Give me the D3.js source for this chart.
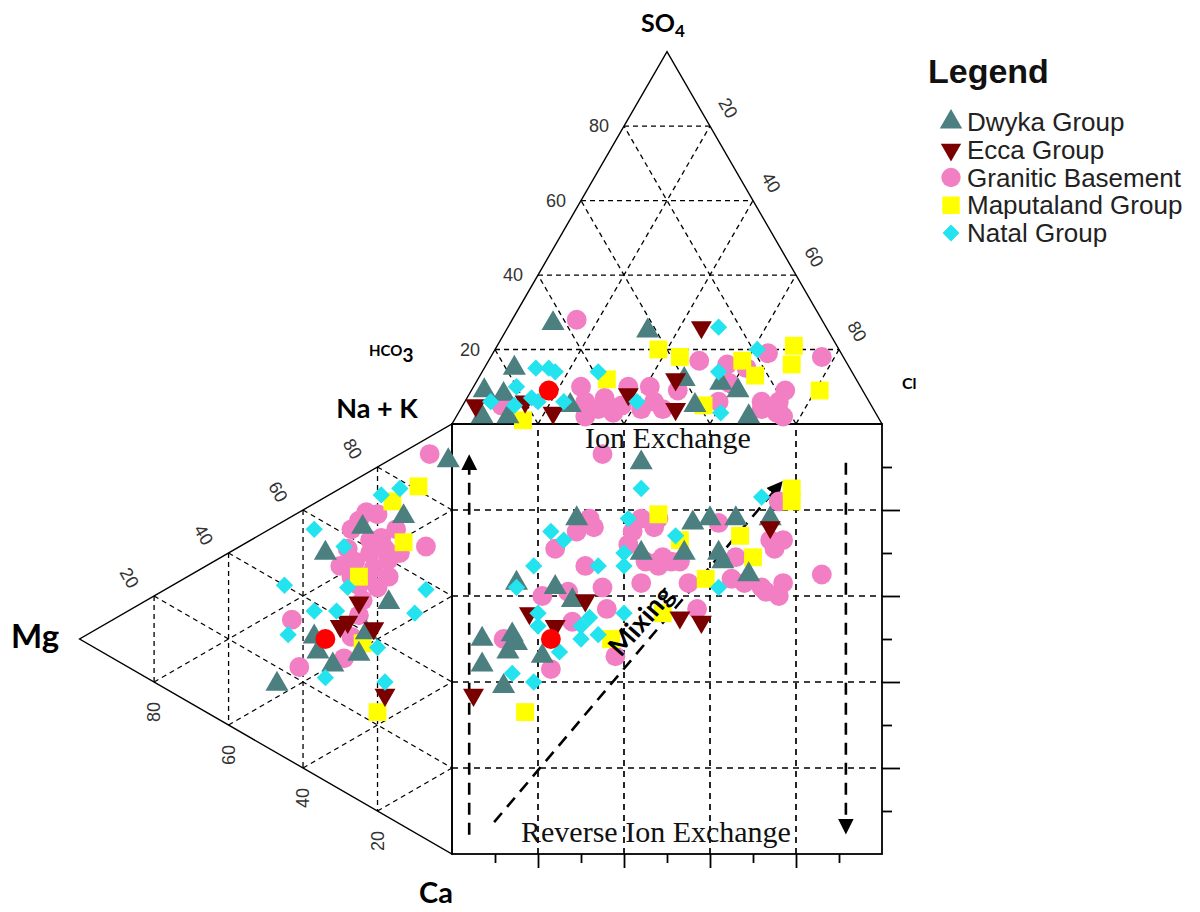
<!DOCTYPE html>
<html>
<head>
<meta charset="utf-8">
<script src="https://cdn.jsdelivr.net/npm/d3@7"></script>
<style>
  body { margin: 0; background: #fff; }
  svg { display: block; }
</style>
</head>
<body>
<svg id="chart" width="1200" height="912"></svg>
<script>
// ---- Sample groups -------------------------------------------------------
const seriesNames = ["Dwyka Group", "Ecca Group", "Granitic Basement", "Maputaland Group", "Natal Group"];
const seriesColors = ["#4b7f80", "#7a0000", "#f27fc3", "#ffff00", "#22e3ee"];

// Anion triangle: [Cl %, SO4 %]  (HCO3 = 100 - Cl - SO4)
const dwykaAnion = [[10,27],[33,25],[48,12],[57,11],[62,9],[54,5],[68,2],[7,15],[3,9],[8,8],[25,5],[6,2],[12,2]];
const eccaAnion = [[45,26],[46,12],[50,4],[3,5],[14,6],[22,3],[37,8]];
const graniticAnion = [[15,28],[77,18],[64,19],[49,17],[56,16],[61,15],[59,11],[48,9],[73,9],[73,6],[69,6],[70,4],[76,2],[59,6],[47,4],[74,3],[9,5],[25,10],[28,6],[32,7],[32,4],[36,3],[36,10],[41,10],[44,6],[42,4],[30,2],[37,5]];
const maputalandAnion = [[38,20],[44,18],[69,21],[71,16],[81,9],[59,17],[64,13],[56,5],[30,12],[16,1]];
const natalAnion = [[49,26],[61,20],[55,14],[61,3],[12,15],[15,15],[17,14],[27,14],[10,10],[15,7],[12,5],[17,6],[23,6],[40,6],[6,6]];

// Cation triangle: [Na+K %, Ca %]  (Mg = 100 - Na+K - Ca)
const dwykaCation = [[91,8],[72,15],[64,12],[53,13],[50,33],[32,31],[29,35],[40,37],[34,41],[28,40],[16,37]];
const eccaCation = [[46,29],[38,32],[40,32],[42,37],[28,54]];
const graniticCation = [[90,4],[69,11],[62,11],[68,25],[64,17],[59,19],[60,23],[52,18],[53,24],[52,28],[47,29],[33,24],[37,36],[31,40],[23,36],[65,10],[62,16],[55,19],[62,20],[68,17],[50,25],[56,23],[51,22],[56,27],[57,15],[63,23],[68,9],[43,32]];
const maputalandCation = [[81,10],[74,10],[66,21],[23,57],[37,39],[52,23]];
const natalCation = [[78,8],[74,7],[57,6],[57,14],[48,24],[58,35],[51,39],[40,15],[38,25],[41,28],[29,27],[38,42],[24,42],[31,51]];

// Central square: [anion position %, cation position %]
const dwykaSquare = [[44,91],[29,78],[24,62],[28,59],[7,50],[14,51],[13,47],[15,49],[7,44],[12,39],[21,46],[15,63],[44,70],[56,77],[60,78],[66,78],[74,78],[54,70],[62,70],[63,68],[69,65]];
const eccaSquare = [[74,76],[31,59],[18,56],[24,53],[5,37],[53,55],[58,54]];
const graniticSquare = [[35,93],[32,78],[33,76],[29,75],[24,71],[31,67],[42,75],[44,78],[47,76],[48,78],[41,72],[45,68],[48,68],[48,67],[51,68],[62,77],[76,82],[74,73],[77,73],[75,71],[66,69],[65,64],[68,63],[72,62],[77,63],[76,60],[86,65],[55,63],[57,57],[49,69],[53,68],[44,63],[35,62],[36,57],[21,60],[27,61],[28,54],[12,50],[23,43],[38,46],[73,61]];
const maputalandSquare = [[48,79],[53,73],[67,74],[70,69],[79,85],[79,82],[59,64],[49,56],[37,50],[17,33]];
const natalSquare = [[44,85],[23,75],[26,73],[19,67],[34,67],[41,78],[40,70],[40,67],[52,74],[72,83],[62,62],[15,62],[20,56],[20,53],[25,47],[14,42],[19,40],[40,56],[32,55],[30,53],[34,51],[30,50]];

// Unassigned sample shown in red
const extraAnion = [[18,9]];
const extraCation = [[33,33]];
const extraSquare = [[23,50]];

const gridValues = [20, 40, 60, 80];
const minorTicks = [10, 30, 50, 70, 90];

// ---- Geometry -----------------------------------------------------------
const svg = d3.select("#chart");
const SQRT3 = Math.sqrt(3);
const side = 430;
const X0 = 452, Y0 = 424;             // top-left corner of the square
const H = side * SQRT3 / 2;
const pct = d3.scaleLinear().domain([0, 100]).range([0, side]);
const xSq = d3.scaleLinear().domain([0, 100]).range([X0, X0 + side]);
const ySq = d3.scaleLinear().domain([0, 100]).range([Y0 + side, Y0]);

const anionXY = ([cl, so4]) => [X0 + pct(cl) + pct(so4) / 2, Y0 - pct(so4) * SQRT3 / 2];
const cationXY = ([nak, ca]) => [X0 - H + (pct(nak) + pct(ca)) * SQRT3 / 2, Y0 + side / 2 - pct(nak) / 2 + pct(ca) / 2];
const squareXY = ([a, c]) => [xSq(a), ySq(c)];

const line = d3.line();
const gridG = svg.append("g").attr("fill", "none").attr("stroke", "#000")
  .attr("stroke-width", 1.3).attr("stroke-dasharray", "5,4");

// anion triangle grid
gridValues.forEach(v => {
  gridG.append("path").attr("d", line([anionXY([0, v]), anionXY([100 - v, v])]));
  gridG.append("path").attr("d", line([anionXY([v, 0]), anionXY([v, 100 - v])]));
  gridG.append("path").attr("d", line([anionXY([100 - v, 0]), anionXY([0, 100 - v])]));
});
// cation triangle grid
gridValues.forEach(v => {
  gridG.append("path").attr("d", line([cationXY([100 - v, 0]), cationXY([0, 100 - v])]));
  gridG.append("path").attr("d", line([cationXY([0, v]), cationXY([100 - v, v])]));
  gridG.append("path").attr("d", line([cationXY([v, 0]), cationXY([v, 100 - v])]));
});
// square grid
const sqGrid = svg.append("g").attr("fill", "none").attr("stroke", "#000")
  .attr("stroke-width", 1.7).attr("stroke-dasharray", "6,5");
gridValues.forEach(v => {
  sqGrid.append("path").attr("d", line([[xSq(v), ySq(0)], [xSq(v), ySq(100)]]));
  sqGrid.append("path").attr("d", line([[xSq(0), ySq(v)], [xSq(100), ySq(v)]]));
});

// outlines
const outline = svg.append("g").attr("fill", "none").attr("stroke", "#000").attr("stroke-width", 1.4);
outline.append("path").attr("d", line([anionXY([0, 0]), anionXY([100, 0]), anionXY([0, 100])]) + "Z");
outline.append("path").attr("d", line([cationXY([100, 0]), cationXY([0, 100]), cationXY([0, 0])]) + "Z");
outline.append("rect").attr("x", xSq(0)).attr("y", ySq(100)).attr("width", side).attr("height", side)
  .attr("stroke-width", 1.8);

// square ticks (right and bottom)
function tickAxis(axis, transform) {
  const g = svg.append("g").attr("transform", transform).call(axis);
  g.select(".domain").remove();
  g.selectAll("line").attr("stroke", "#000").attr("stroke-width", 1.8);
  g.selectAll("text").remove();
}
tickAxis(d3.axisRight(ySq).tickValues(minorTicks).tickSize(10).tickFormat(""), `translate(${X0 + side},0)`);
tickAxis(d3.axisRight(ySq).tickValues(gridValues).tickSize(18).tickFormat(""), `translate(${X0 + side},0)`);
tickAxis(d3.axisBottom(xSq).tickValues(minorTicks).tickSize(9).tickFormat(""), `translate(0,${Y0 + side})`);
tickAxis(d3.axisBottom(xSq).tickValues(gridValues).tickSize(14).tickFormat(""), `translate(0,${Y0 + side})`);

// ---- Tick labels ---------------------------------------------------------
const tickFont = "'Liberation Sans', Arial, sans-serif";
const tl = svg.append("g").attr("font-family", tickFont).attr("font-size", 18).attr("fill", "#333");
gridValues.forEach(v => {
  const [ax, ay] = anionXY([0, v]);
  tl.append("text").attr("x", ax - 15).attr("y", ay).attr("text-anchor", "end")
    .attr("dominant-baseline", "central").text(v);
  const [bx, by] = anionXY([v, 100 - v]);
  tl.append("text").attr("transform", `translate(${bx + 18},${by - 18}) rotate(60)`)
    .attr("text-anchor", "middle").attr("dominant-baseline", "central").text(v);
  const [cx, cy] = cationXY([v, 0]);
  tl.append("text").attr("transform", `translate(${cx - 25},${cy - 18}) rotate(60)`)
    .attr("text-anchor", "middle").attr("dominant-baseline", "central").text(v);
  const [dx, dy] = cationXY([0, 100 - v]);
  tl.append("text").attr("transform", `translate(${dx},${dy + 30}) rotate(-90)`)
    .attr("text-anchor", "middle").attr("dominant-baseline", "central").text(v);
});

// ---- Arrows ------------------------------------------------------------
const defs = svg.append("defs");
defs.append("marker").attr("id", "head").attr("viewBox", "0 0 10 10")
  .attr("refX", 2).attr("refY", 5).attr("markerUnits", "userSpaceOnUse")
  .attr("markerWidth", 16).attr("markerHeight", 16).attr("orient", "auto")
  .append("path").attr("d", "M0,0L10,5L0,10Z").attr("fill", "#000");

const arrows = [
  [[4, 4.5], [4, 90]],
  [[91.6, 91], [91.6, 7.5]],
  [[9.8, 7.4], [75, 84.5]]
];
svg.append("g").selectAll("path").data(arrows).join("path")
  .attr("d", d => line(d.map(squareXY)))
  .attr("fill", "none").attr("stroke", "#000").attr("stroke-width", 2.6)
  .attr("stroke-dasharray", "12,8").attr("marker-end", "url(#head)");

// ---- Points -------------------------------------------------------------
const symbolSpec = {
  "Dwyka Group": { type: d3.symbolTriangle, size: 230, rot: 0 },
  "Ecca Group": { type: d3.symbolTriangle, size: 190, rot: 180 },
  "Granitic Basement": { type: d3.symbolCircle, size: 310, rot: 0 },
  "Maputaland Group": { type: d3.symbolSquare, size: 320, rot: 0 },
  "Natal Group": { type: d3.symbolSquare, size: 150, rot: 45 }
};
const colorOf = d3.scaleOrdinal().domain(seriesNames).range(seriesColors);

const layers = [
  { name: "Granitic Basement", sets: [graniticAnion, graniticCation, graniticSquare] },
  { name: "Maputaland Group", sets: [maputalandAnion, maputalandCation, maputalandSquare] },
  { name: "Dwyka Group", sets: [dwykaAnion, dwykaCation, dwykaSquare] },
  { name: "Ecca Group", sets: [eccaAnion, eccaCation, eccaSquare] },
  { name: "Natal Group", sets: [natalAnion, natalCation, natalSquare] }
];
const projections = [anionXY, cationXY, squareXY];
const pts = svg.append("g");
layers.forEach(layer => {
  const spec = symbolSpec[layer.name];
  const path = d3.symbol().type(spec.type).size(spec.size)();
  layer.sets.forEach((set, i) => {
    pts.append("g").selectAll("path").data(set).join("path")
      .attr("d", path)
      .attr("transform", d => { const [x, y] = projections[i](d); return `translate(${x},${y}) rotate(${spec.rot})`; })
      .attr("fill", colorOf(layer.name));
  });
});
const redPath = d3.symbol().type(d3.symbolCircle).size(310)();
[extraAnion, extraCation, extraSquare].forEach((set, i) => {
  pts.append("g").selectAll("path").data(set).join("path")
    .attr("d", redPath)
    .attr("transform", d => { const [x, y] = projections[i](d); return `translate(${x},${y})`; })
    .attr("fill", "#ff0000");
});

// ---- Text annotations ---------------------------------------------------
const serif = "'Liberation Serif', 'Times New Roman', serif";
svg.append("text").attr("x", 668).attr("y", 448).attr("text-anchor", "middle")
  .attr("font-family", serif).attr("font-size", 30).attr("fill", "#111").text("Ion Exchange");
svg.append("text").attr("x", 656).attr("y", 842).attr("text-anchor", "middle")
  .attr("font-family", serif).attr("font-size", 30).attr("fill", "#111").text("Reverse Ion Exchange");

const labelFont = "Lato, 'Open Sans', sans-serif";
svg.append("text").attr("transform", "translate(640,620) rotate(-49)").attr("text-anchor", "middle")
  .attr("dominant-baseline", "central")
  .attr("font-family", labelFont).attr("font-weight", 700).attr("font-size", 27).text("Mixing");

const so4 = svg.append("text").attr("x", 641).attr("y", 32).attr("font-family", labelFont)
  .attr("font-weight", 700).attr("font-size", 25);
so4.append("tspan").text("SO");
so4.append("tspan").attr("dy", 5).attr("font-size", 17).text("4");

const hco3 = svg.append("text").attr("x", 369).attr("y", 356).attr("font-family", labelFont)
  .attr("font-weight", 700).attr("font-size", 15);
hco3.append("tspan").text("HCO");
hco3.append("tspan").attr("dy", 6).attr("font-size", 19).text("3");

svg.append("text").attr("x", 902).attr("y", 389).attr("font-family", labelFont)
  .attr("font-weight", 700).attr("font-size", 16).text("Cl");
svg.append("text").attr("x", 377).attr("y", 418).attr("text-anchor", "middle").attr("font-family", labelFont)
  .attr("font-weight", 700).attr("font-size", 27).text("Na + K");
svg.append("text").attr("x", 11).attr("y", 648).attr("font-family", labelFont)
  .attr("font-weight", 700).attr("font-size", 33).text("Mg");
svg.append("text").attr("x", 419).attr("y", 903).attr("font-family", labelFont)
  .attr("font-weight", 700).attr("font-size", 29).text("Ca");

// ---- Legend -----------------------------------------------------------------
const legend = svg.append("g").attr("font-family", tickFont);
legend.append("text").attr("x", 928).attr("y", 83).attr("font-weight", 700)
  .attr("font-size", 34).attr("fill", "#111").text("Legend");
const rowY = d3.scalePoint().domain(seriesNames).range([122, 233]);
seriesNames.forEach(name => {
  const spec = symbolSpec[name];
  legend.append("path").attr("d", d3.symbol().type(spec.type).size(spec.size * 0.95)())
    .attr("transform", `translate(951,${rowY(name)}) rotate(${spec.rot})`)
    .attr("fill", colorOf(name));
  legend.append("text").attr("x", 967).attr("y", rowY(name)).attr("dominant-baseline", "central")
    .attr("font-size", 26).attr("fill", "#222").text(name);
});
</script>
</body>
</html>
